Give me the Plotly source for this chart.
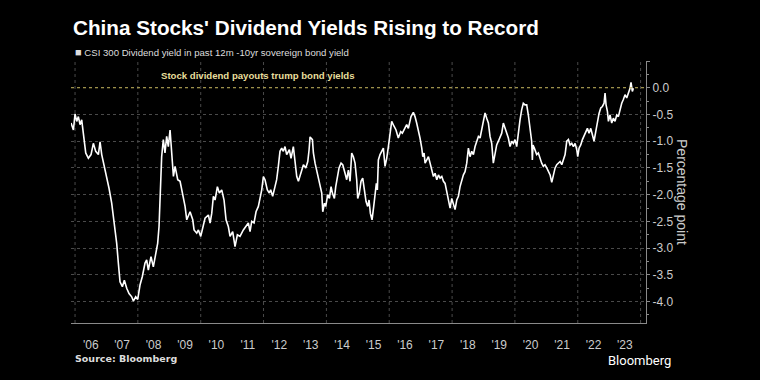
import numpy as np
from datetime import datetime, timedelta
import plotly.graph_objects as go

# Decimal-year positions of readings
years = [
    2005.873, 2005.947, 2006.000, 2006.053, 2006.106, 2006.159, 2006.212, 2006.265, 2006.340, 2006.424,
    2006.509, 2006.583, 2006.658, 2006.743, 2006.796, 2006.849, 2006.934, 2007.008, 2007.082, 2007.167,
    2007.273, 2007.326, 2007.379, 2007.432, 2007.507, 2007.570, 2007.645, 2007.719, 2007.804, 2007.857,
    2007.931, 2007.995, 2008.069, 2008.143, 2008.228, 2008.281, 2008.334, 2008.419, 2008.493, 2008.567,
    2008.631, 2008.674, 2008.705, 2008.758, 2008.811, 2008.864, 2008.917, 2008.970, 2009.023, 2009.076,
    2009.130, 2009.183, 2009.267, 2009.342, 2009.427, 2009.501, 2009.554, 2009.607, 2009.660, 2009.745,
    2009.787, 2009.872, 2009.925, 2010.000, 2010.064, 2010.137, 2010.244, 2010.297, 2010.350, 2010.403,
    2010.456, 2010.530, 2010.594, 2010.668, 2010.742, 2010.806, 2010.880, 2010.933, 2011.018, 2011.092,
    2011.167, 2011.251, 2011.357, 2011.442, 2011.516, 2011.570, 2011.623, 2011.697, 2011.761, 2011.835,
    2011.888, 2011.942, 2011.995, 2012.047, 2012.121, 2012.185, 2012.227, 2012.291, 2012.365, 2012.418,
    2012.471, 2012.524, 2012.578, 2012.631, 2012.684, 2012.737, 2012.822, 2012.875, 2012.949, 2013.002,
    2013.055, 2013.108, 2013.161, 2013.215, 2013.268, 2013.342, 2013.406, 2013.448, 2013.479, 2013.554,
    2013.585, 2013.638, 2013.692, 2013.745, 2013.798, 2013.851, 2013.883, 2013.936, 2013.978, 2014.042,
    2014.095, 2014.148, 2014.191, 2014.254, 2014.297, 2014.360, 2014.402, 2014.466, 2014.519, 2014.593,
    2014.646, 2014.699, 2014.752, 2014.805, 2014.858, 2014.911, 2014.964, 2014.996, 2015.049, 2015.102,
    2015.156, 2015.209, 2015.262, 2015.315, 2015.357, 2015.400, 2015.453, 2015.506, 2015.548, 2015.590,
    2015.622, 2015.654, 2015.707, 2015.760, 2015.813, 2015.866, 2015.920, 2015.973, 2016.025, 2016.079,
    2016.153, 2016.216, 2016.290, 2016.365, 2016.418, 2016.482, 2016.556, 2016.609, 2016.694, 2016.768,
    2016.821, 2016.874, 2016.927, 2016.980, 2017.034, 2017.066, 2017.108, 2017.139, 2017.193, 2017.246,
    2017.299, 2017.352, 2017.405, 2017.458, 2017.512, 2017.565, 2017.617, 2017.671, 2017.724, 2017.776,
    2017.830, 2017.883, 2017.935, 2017.989, 2018.042, 2018.094, 2018.148, 2018.201, 2018.253, 2018.307,
    2018.360, 2018.412, 2018.466, 2018.519, 2018.571, 2018.625, 2018.678, 2018.731, 2018.784, 2018.837,
    2018.890, 2018.943, 2018.996, 2019.049, 2019.102, 2019.155, 2019.208, 2019.261, 2019.313, 2019.367,
    2019.420, 2019.473, 2019.526, 2019.580, 2019.632, 2019.685, 2019.739, 2019.791, 2019.845, 2019.898,
    2019.950, 2020.004, 2020.058, 2020.109, 2020.163, 2020.217, 2020.268, 2020.322, 2020.376, 2020.428,
    2020.449, 2020.481, 2020.513, 2020.534, 2020.555, 2020.577, 2020.619, 2020.661, 2020.693, 2020.746,
    2020.799, 2020.853, 2020.906, 2020.958, 2021.012, 2021.065, 2021.118, 2021.171, 2021.224, 2021.277,
    2021.330, 2021.383, 2021.436, 2021.490, 2021.542, 2021.595, 2021.649, 2021.701, 2021.754, 2021.808,
    2021.860, 2021.914, 2021.967, 2021.998, 2022.041, 2022.094, 2022.147, 2022.200, 2022.254, 2022.306,
    2022.359, 2022.413, 2022.465, 2022.518, 2022.572, 2022.624, 2022.677, 2022.731, 2022.783, 2022.836,
    2022.868, 2022.900, 2022.943, 2022.975, 2023.027, 2023.081, 2023.133, 2023.186, 2023.240, 2023.292,
    2023.345, 2023.399, 2023.451, 2023.504, 2023.558, 2023.610, 2023.664, 2023.695, 2023.737, 2023.769,
]

# CSI 300 dividend yield minus 10yr sovereign bond yield (percentage points)
spread = [
    -0.66, -0.79, -0.49, -0.63, -0.54, -0.69, -0.60, -0.85, -1.22, -1.32,
    -1.25, -1.04, -1.19, -1.25, -1.01, -1.25, -1.47, -1.72, -1.88, -2.16,
    -2.66, -2.91, -3.28, -3.63, -3.72, -3.60, -3.75, -3.85, -3.91, -3.99,
    -3.91, -3.96, -3.69, -3.53, -3.28, -3.22, -3.41, -3.16, -3.35, -3.10,
    -2.91, -2.60, -2.10, -1.29, -0.97, -1.22, -0.91, -1.10, -0.79, -1.29,
    -1.66, -1.47, -1.72, -1.75, -1.97, -2.22, -2.47, -2.38, -2.32, -2.47,
    -2.66, -2.72, -2.66, -2.78, -2.60, -2.44, -2.38, -2.53, -2.35, -2.03,
    -2.10, -1.85, -1.97, -1.91, -2.10, -2.47, -2.60, -2.78, -2.69, -2.97,
    -2.75, -2.78, -2.66, -2.60, -2.53, -2.69, -2.50, -2.53, -2.32, -2.22,
    -2.07, -1.91, -1.66, -1.72, -1.91, -1.97, -1.91, -2.03, -1.85, -1.72,
    -1.47, -1.19, -1.13, -1.19, -1.10, -1.25, -1.16, -1.32, -1.10, -1.41,
    -1.66, -1.75, -1.63, -1.54, -1.44, -1.50, -1.38, -1.16, -0.92, -0.97,
    -1.22, -1.41, -1.54, -1.66, -1.79, -1.97, -2.32, -2.16, -2.22, -2.00,
    -2.07, -1.85, -1.97, -2.07, -1.85, -1.66, -1.50, -1.41, -1.44, -1.60,
    -1.72, -1.54, -1.75, -1.22, -1.29, -1.41, -1.72, -2.07, -1.97, -1.75,
    -1.69, -1.91, -2.13, -2.22, -2.10, -2.35, -2.47, -2.22, -1.97, -1.79,
    -1.91, -1.35, -1.25, -1.19, -1.13, -1.47, -1.32, -1.10, -0.82, -0.63,
    -0.72, -0.79, -0.94, -0.82, -0.85, -0.76, -0.69, -0.76, -0.54, -0.46,
    -0.54, -0.66, -0.79, -0.94, -1.13, -1.29, -1.22, -1.41, -1.35, -1.29,
    -1.41, -1.54, -1.66, -1.60, -1.72, -1.63, -1.69, -1.66, -1.75, -1.79,
    -1.97, -2.10, -2.25, -2.07, -2.19, -2.28, -2.10, -2.03, -1.85, -1.72,
    -1.63, -1.57, -1.41, -1.13, -1.29, -1.19, -1.25, -1.10, -1.00, -0.91,
    -0.94, -0.79, -0.66, -0.47, -0.57, -0.66, -0.91, -1.04, -1.41, -1.19,
    -1.07, -1.00, -0.91, -0.85, -0.66, -0.76, -0.85, -0.94, -1.10, -1.00,
    -1.04, -0.97, -1.10, -0.79, -0.60, -0.41, -0.29, -0.32, -0.32, -0.51,
    -0.63, -0.76, -0.91, -1.00, -1.35, -1.07, -1.13, -1.19, -1.25, -1.22,
    -1.32, -1.41, -1.47, -1.44, -1.50, -1.57, -1.63, -1.77, -1.60, -1.50,
    -1.44, -1.41, -1.38, -1.44, -1.35, -1.25, -1.00, -0.97, -1.07, -1.04,
    -1.10, -1.04, -1.16, -1.29, -1.13, -1.07, -0.97, -0.91, -0.82, -0.76,
    -0.85, -0.76, -0.88, -1.00, -0.82, -0.63, -0.48, -0.38, -0.35, -0.29,
    -0.10, -0.32, -0.44, -0.63, -0.51, -0.66, -0.57, -0.63, -0.51, -0.54,
    -0.41, -0.29, -0.22, -0.13, -0.19, -0.10, -0.01, 0.10, -0.07, -0.01,
]

y_ticks = [-4.0, -3.5, -3.0, -2.5, -2.0, -1.5, -1.0, -0.5, 0.0, 0.5]
y_ticktext = ["-4.0", "-3.5", "-3.0", "-2.5", "-2.0", "-1.5", "-1.0", "-0.5", "0.0", ""]
grid_years = [2006, 2008, 2010, 2012, 2014, 2016, 2018, 2020, 2022, 2024]


def dec_to_date(y):
    yi = int(np.floor(y))
    return datetime(yi, 1, 1) + timedelta(days=(y - yi) * 365.25)


dates = [dec_to_date(y) for y in years]

fig = go.Figure()
fig.add_trace(go.Scatter(
    x=dates, y=spread, mode="lines",
    line=dict(color="#ffffff", width=1.6),
    showlegend=False, hoverinfo="skip",
))

grid_col = "#4a4a4a"
shapes = []
for gy in grid_years:
    shapes.append(dict(type="line", xref="x", yref="paper",
                       x0=f"{gy}-01-01", x1=f"{gy}-01-01", y0=0, y1=1,
                       line=dict(color=grid_col, width=1, dash="dot"), layer="below"))
shapes.append(dict(type="line", xref="paper", yref="y", x0=0, x1=1, y0=0, y1=0,
                   line=dict(color="#b9a94e", width=1.2, dash="dot"), layer="above"))

FONT = "Liberation Sans, Arial, sans-serif"
annotations = [
    dict(text="<b>China Stocks' Dividend Yields Rising to Record</b>", xref="paper", yref="paper",
         x=0, y=1.126, xanchor="left", yanchor="middle", showarrow=False,
         font=dict(family=FONT, size=20.7, color="#ffffff")),
    dict(text="<span style='font-size:11px'>■</span> CSI 300 Dividend yield in past 12m -10yr sovereign bond yield",
         xref="paper", yref="paper", x=0.004, y=1.034, xanchor="left", yanchor="middle", showarrow=False,
         font=dict(family=FONT, size=9.6, color="#dddddd")),
    dict(text="<b>Stock dividend payouts trump bond yields</b>", xref="x", yref="y",
         x="2011-10-30", y=0.23, xanchor="center", yanchor="middle", showarrow=False,
         font=dict(family=FONT, size=9.6, color="#e8df9c")),
    dict(text="Percentage point", xref="paper", yref="paper", x=1.0626, y=0.5,
         xanchor="center", yanchor="middle", textangle=90, showarrow=False,
         font=dict(family=FONT, size=14, color="#cccccc")),
    dict(text="<b>Source: Bloomberg</b>", xref="paper", yref="paper", x=0.003, y=-0.134,
         xanchor="left", yanchor="middle", showarrow=False,
         font=dict(family="DejaVu Sans, sans-serif", size=9.5, color="#dddddd")),
    dict(text="Bloomberg", xref="paper", yref="paper", x=1.047, y=-0.143,
         xanchor="right", yanchor="middle", showarrow=False,
         font=dict(family="Roboto, sans-serif", size=13, color="#ffffff")),
]

fig.update_layout(
    width=760, height=380,
    paper_bgcolor="#000000", plot_bgcolor="#000000",
    margin=dict(l=71, r=114, t=61, b=57),
    shapes=shapes, annotations=annotations,
    xaxis=dict(
        type="date", range=["2005-11-15", "2024-03-04"],
        showgrid=False, zeroline=False,
        showline=True, linecolor="#8a8a8a", linewidth=1,
        dtick="M12", tick0="2006-01-01", tickformat="'%y", ticklabelmode="period",
        ticks="outside", ticklen=11, tickcolor="rgba(0,0,0,0)",
        tickfont=dict(family=FONT, size=12, color="#cccccc"),
        minor=dict(ticks="outside", ticklen=27, tickcolor="#666666", dtick="M12",
                   tick0="2006-01-01", showgrid=False),
    ),
    yaxis=dict(
        side="right", range=[-4.4, 0.5],
        tickvals=y_ticks, ticktext=y_ticktext,
        showgrid=True, gridcolor=grid_col, griddash="dot", gridwidth=1,
        zeroline=False,
        showline=True, linecolor="#8a8a8a", linewidth=1,
        ticks="outside", ticklen=3, tickcolor="#8a8a8a",
        tickfont=dict(family=FONT, size=12, color="#cccccc"),
        minor=dict(ticks="outside", ticklen=2, tickcolor="#8a8a8a", dtick=0.25, tick0=0, showgrid=False),
    ),
)

fig.write_html(
    "out.html",
    config={"displayModeBar": False},
    post_script="document.body.style.margin='0';document.body.style.overflow='hidden';",
)
